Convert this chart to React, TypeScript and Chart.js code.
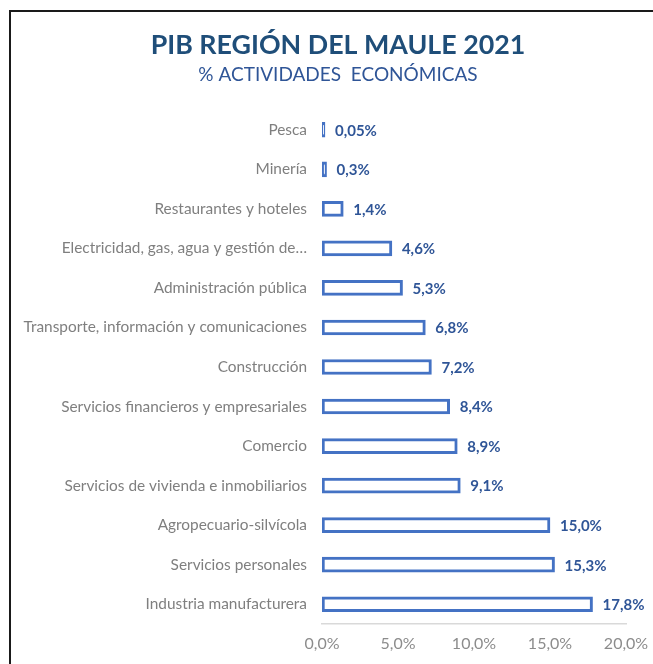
import React, { useEffect, useRef } from "react";
import { Chart, registerables } from "chart.js";

Chart.register(...registerables);

const categories = [
  "Pesca",
  "Minería",
  "Restaurantes y hoteles",
  "Electricidad, gas, agua y gestión de…",
  "Administración pública",
  "Transporte, información y comunicaciones",
  "Construcción",
  "Servicios financieros y empresariales",
  "Comercio",
  "Servicios de vivienda e inmobiliarios",
  "Agropecuario-silvícola",
  "Servicios personales",
  "Industria manufacturera",
];

const values = [0.05, 0.3, 1.4, 4.6, 5.3, 6.8, 7.2, 8.4, 8.9, 9.1, 15.0, 15.3, 17.8];

const valueLabels = [
  "0,05%", "0,3%", "1,4%", "4,6%", "5,3%", "6,8%", "7,2%", "8,4%", "8,9%", "9,1%", "15,0%", "15,3%", "17,8%",
];

const xTicks = [0, 5, 10, 15, 20];

const titleText = "PIB REGIÓN DEL MAULE 2021";
const subtitleText = "% ACTIVIDADES  ECONÓMICAS";

const FONT = "Lato";

export default function App() {
  const ref = useRef<HTMLCanvasElement | null>(null);

  useEffect(() => {
    const canvas = ref.current;
    if (!canvas) return;

    const framePlugin = {
      id: "frame",
      beforeDraw(chart: any) {
        const ctx = chart.ctx;
        ctx.save();
        ctx.fillStyle = "#ffffff";
        ctx.fillRect(0, 0, chart.width, chart.height);
        ctx.strokeStyle = "#1a1a1a";
        ctx.lineWidth = 2;
        ctx.beginPath();
        ctx.moveTo(chart.width + 2, 11);
        ctx.lineTo(10, 11);
        ctx.lineTo(10, chart.height + 2);
        ctx.stroke();
        ctx.textAlign = "center";
        ctx.textBaseline = "middle";
        ctx.fillStyle = "#1F4E79";
        ctx.font = `bold 26.8px ${FONT}`;
        ctx.fillText(titleText, 338, 45);
        ctx.fillStyle = "#2F5597";
        ctx.font = `19px ${FONT}`;
        ctx.fillText(subtitleText, 338, 75);
        ctx.restore();
      },
    };

    const labelPlugin = {
      id: "valueLabels",
      afterDatasetsDraw(chart: any) {
        const ctx = chart.ctx;
        const meta = chart.getDatasetMeta(0);
        ctx.save();
        ctx.fillStyle = "#2F5597";
        ctx.font = `bold 15px ${FONT}`;
        ctx.textAlign = "left";
        ctx.textBaseline = "middle";
        meta.data.forEach((bar: any, i: number) => {
          ctx.fillText(valueLabels[i], bar.x + 10, bar.y + 1);
        });
        ctx.restore();
      },
    };

    const chart = new Chart(canvas, {
      type: "bar",
      data: {
        labels: categories,
        datasets: [
          {
            data: values,
            backgroundColor: "#ffffff",
            borderColor: "#4472C4",
            borderWidth: 3,
            borderSkipped: false,
            barThickness: 15,
            minBarLength: 3,
          },
        ],
      },
      options: {
        indexAxis: "y",
        animation: false,
        responsive: false,
        devicePixelRatio: 1,
        layout: { padding: { top: 110, left: 0, right: 27, bottom: 0 } },
        plugins: {
          legend: { display: false },
          tooltip: { enabled: false },
          title: { display: false },
        },
        scales: {
          x: {
            min: 0,
            max: 20,
            afterBuildTicks(scale: any) {
              scale.ticks = xTicks.map((v) => ({ value: v }));
            },
            afterFit(scale: any) {
              scale.height = 40;
              scale.paddingLeft = 0;
              scale.paddingRight = 0;
            },
            grid: { display: false, drawTicks: false },
            border: { display: true, color: "#D9D9D9", width: 1.5 },
            ticks: {
              padding: 10,
              color: "#8C8C8C",
              font: { family: FONT, size: 16 },
              callback: (v: any) => Number(v).toFixed(1).replace(".", ",") + "%",
            },
          },
          y: {
            afterFit(scale: any) {
              scale.width = 322;
            },
            grid: { display: false, drawTicks: false },
            border: { display: false },
            ticks: {
              padding: 15,
              color: "#7F7F7F",
              font: { family: FONT, size: 15.4 },
              autoSkip: false,
            },
          },
        },
      },
      plugins: [framePlugin, labelPlugin],
    });

    return () => chart.destroy();
  }, []);

  return (
    <div style={{ position: "fixed", left: 0, top: 0, width: 653, height: 664 }}>
      <canvas ref={ref} width={653} height={664} style={{ width: 653, height: 664, display: "block" }} />
    </div>
  );
}
